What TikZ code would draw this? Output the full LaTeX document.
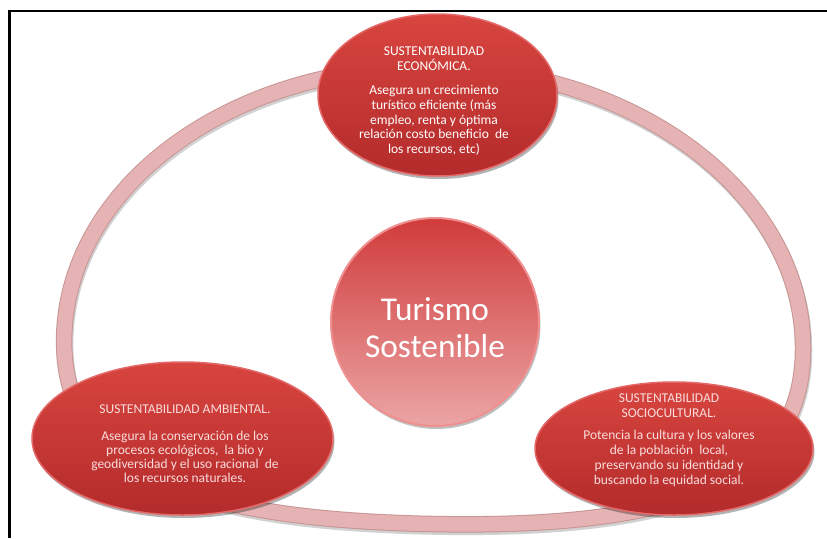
\documentclass[tikz,border=0pt]{standalone}
\usepackage{fontspec}
\setmainfont{Carlito}
\usetikzlibrary{shapes.geometric,shadows}

\definecolor{ringfill}{HTML}{E5B3B3}
\definecolor{ringedge}{HTML}{C89595}
\definecolor{redtop}{HTML}{D8453F}
\definecolor{redbot}{HTML}{B32B2B}
\definecolor{redrim}{HTML}{E46868}
\definecolor{hubtop}{HTML}{D13B3B}
\definecolor{hubbot}{HTML}{EBA5A5}
\definecolor{hubrim}{HTML}{EF8F8F}
\definecolor{paletext}{HTML}{F9DDDD}

\tikzset{
  pillar/.style={ellipse, inner sep=0pt, shading=axis, top color=redtop,
    bottom color=redbot, draw=redrim, line width=1.5pt,
    drop shadow={shadow xshift=1.5pt, shadow yshift=-3pt, opacity=0.3, fill=black}},
  hub/.style={circle, inner sep=0pt, shading=axis, top color=hubtop,
    bottom color=hubbot, draw=hubrim, line width=2pt,
    drop shadow={shadow xshift=1.5pt, shadow yshift=-3pt, opacity=0.25, fill=black}},
  pillartext/.style={inner sep=0pt, anchor=base, text=#1},
  ringstroke/.style={draw=ringfill, line width=14.5pt,
    preaction={draw=black, opacity=0.18, line width=16.5pt,
      transform canvas={shift={(1pt,-2.5pt)}}},
    preaction={draw=ringedge, line width=16.5pt}},
  frameline/.style={draw=black, line width=2.5pt}
}

\begin{document}
\begin{tikzpicture}[x=1pt,y=1pt]
  \useasboundingbox (0,0) rectangle (827,-538);
  \fill[white] (0,0) rectangle (827,-538);

  % outer frame (top and left edges)
  \coordinate (frameBL) at (9.5,-538);
  \coordinate (frameTL) at (9.5,-11);
  \coordinate (frameTR) at (827,-11);
  \path[frameline] (frameBL) -- (frameTL) -- (frameTR);

  % the ring that links the three pillars
  \begin{scope}[rotate around={-1.2:(433.5,-348)}]
    \path[ringstroke] (64,-345)
      arc[start angle=180, end angle=0, x radius=369.5, y radius=278]
      .. controls (803,-475) and (683.5,-524) .. (433.5,-524)
      .. controls (183.5,-524) and (64,-475) .. (64,-345) -- cycle;
  \end{scope}

  % central hub
  \node[hub, minimum size=208pt] (hub) at (435,-322) {};
  \node[inner sep=0pt, anchor=base, text=white] (hubtxt) at (435,-320)
    {\fontsize{33.3}{37}\selectfont
     \begin{tabular}[t]{@{}c@{}}Turismo\\Sostenible\end{tabular}};

  % economic pillar
  \node[pillar, minimum width=239pt, minimum height=162pt] (econ) at (437.5,-95) {};
  \node[pillartext=white] (econtxt) at (434,-55)
    {\fontsize{13.5}{14.8}\selectfont
     \begin{tabular}[t]{@{}c@{}}
       SUSTENTABILIDAD\\ECONÓMICA.\\[9pt]
       Asegura un crecimiento\\
       turístico eficiente (más\\
       empleo, renta y óptima\\
       relación costo beneficio~ de\\
       los recursos, etc)
     \end{tabular}};

  % environmental pillar
  \node[pillar, minimum width=301pt, minimum height=153pt] (amb) at (182.5,-438.5) {};
  \node[pillartext=paletext] (ambtxt) at (185,-413)
    {\fontsize{13.5}{13.9}\selectfont
     \begin{tabular}[t]{@{}c@{}}
       SUSTENTABILIDAD AMBIENTAL.\\[14pt]
       Asegura la conservación de los\\
       procesos ecológicos,~ la bio y\\
       geodiversidad y el uso racional~ de\\
       los recursos naturales.
     \end{tabular}};

  % sociocultural pillar
  \node[pillar, minimum width=278pt, minimum height=133pt] (soc) at (674,-448.5) {};
  \node[pillartext=paletext] (soctxt) at (669,-402)
    {\fontsize{13.5}{15}\selectfont
     \begin{tabular}[t]{@{}c@{}}
       SUSTENTABILIDAD\\SOCIOCULTURAL.\\[7pt]
       Potencia la cultura y los valores\\
       de la población~ local,\\
       preservando su identidad y\\
       buscando la equidad social.
     \end{tabular}};
\end{tikzpicture}
\end{document}
